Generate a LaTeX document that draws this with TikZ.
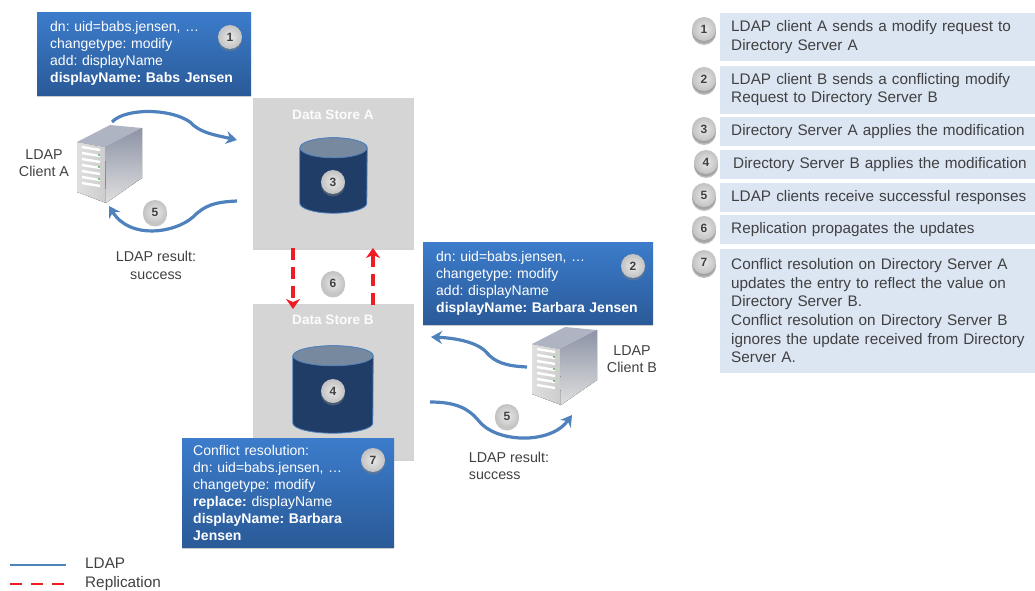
\documentclass[tikz,border=0pt]{standalone}
\usepackage{fontspec}
\setmainfont{Liberation Sans}
\usepackage{tikz}
\usetikzlibrary{positioning}
\usetikzlibrary{arrows.meta, shadows}
\definecolor{ldapblue}{HTML}{4F81BD}
\definecolor{boxtop}{HTML}{3C7CCB}
\definecolor{boxbot}{HTML}{2A5A98}
\definecolor{bandblue}{HTML}{DCE6F3}
\definecolor{storegrey}{HTML}{D5D5D5}
\definecolor{inkgrey}{HTML}{404040}
\definecolor{drumblue}{HTML}{1F3D66}
\definecolor{drumtop}{HTML}{76899F}
\definecolor{replred}{HTML}{EE1C25}
\definecolor{slate}{HTML}{8C93A6}
\tikzset{info box/.style={rectangle,anchor=north west,top color=boxtop,bottom color=boxbot,align=left,
                text=white,font=\fontsize{14}{17}\selectfont\frenchspacing,inner xsep=13pt,inner ysep=0pt,
                drop shadow={shadow xshift=0pt,shadow yshift=-2pt,opacity=.4}},
            store box/.style={rectangle,anchor=north west,fill=storegrey,
                drop shadow={shadow xshift=0pt,shadow yshift=-2pt,opacity=.35}},
            store title/.style={font=\fontsize{13.6}{14}\selectfont\bfseries,text=white!92!storegrey,inner sep=0pt},
            drum base/.style={rectangle,inner sep=0pt},
            badge/.style={circle,minimum size=24pt,inner sep=0pt,shading=radial,inner color=gray!18,outer color=gray!48,
                text=black!75,font=\fontsize{12}{12}\selectfont\bfseries,
                drop shadow={shadow xshift=0pt,shadow yshift=-2.5pt,opacity=.45}},
            step badge/.style={badge,drop shadow={shadow xshift=0pt,shadow yshift=-4pt,opacity=.5}},
            step band/.style={rectangle,anchor=north west,fill=bandblue,align=left,
                text=inkgrey,font=\fontsize{15.3}{18.7}\selectfont\frenchspacing,inner xsep=11pt,inner ysep=0pt,text width=304pt},
            plain note/.style={inner sep=0pt,align=center,text=inkgrey,font=\fontsize{14.3}{17.5}\selectfont},
            ldap link/.style={draw=ldapblue,line width=3.2pt,-{Stealth[length=11pt,width=13pt]}},
            repl link/.style={draw=replred,line width=3.2pt,dash pattern=on 12pt off 7pt,-{Stealth[length=10pt,width=14pt,inset=3pt]}},
            pics/server/.style={code={
                \fill[left color=gray!25,right color=gray!40] (0,17) -- (28,22) -- (29,78) -- (0,67) -- cycle;
                \fill[top color=slate,bottom color=gray!25] (28,22) -- (65,3) -- (65,53) -- (29,78) -- cycle;
                \fill[slate!70] (0,17) -- (33,0) -- (65,3) -- (28,22) -- cycle;
                \foreach \r in {22,28,34,40,46,52,58}
                    \draw[white,line width=2.4pt] (5,\r) -- (23,\r+3);
                \foreach \r in {28,40,52}
                    \fill[green!60!black] (22,\r+2) circle (.8);
            }},
            }
\newcommand\drumart[2]{
 \filldraw[fill=drumblue,draw=ldapblue,thick] ([yshift=-10pt]#1.north west) -- ([yshift=10pt]#1.south west)
     arc[start angle=180,end angle=360,x radius=#2pt,y radius=10pt] -- ([yshift=-10pt]#1.north east)
     arc[start angle=0,end angle=180,x radius=#2pt,y radius=10pt] -- cycle;
 \filldraw[fill=drumtop,draw=ldapblue,thick] ([yshift=-10pt]#1.north) circle[x radius=#2pt,y radius=10pt];
}
\begin{document}
\begin{tikzpicture}[x=1pt,y=-1pt]
 \useasboundingbox (0,0) rectangle (1035,591);
 % data stores
 \node[store box,minimum width=161pt,minimum height=150pt] (storeA) at (253,98) {};
 \node[store box,minimum width=161pt,minimum height=155pt] (storeB) at (253,304) {};
 \node[store title] (titleA) at (333,115) {Data Store A};
 \node[store title] (titleB) at (333,320) {Data Store B};
 \node[drum base,minimum width=67pt,minimum height=75pt] (drumA) at (333.5,175.5) {};
 \node[drum base,minimum width=80pt,minimum height=87pt] (drumB) at (333,389.5) {};
 \drumart{drumA}{33.5}
 \drumart{drumB}{40}
 % blue boxes
 \node[info box,text width=188pt,minimum height=83pt] (boxA) at (37,12) {dn: uid=babs.jensen, \dots\\changetype: modify\\add: displayName\\\textbf{displayName: Babs Jensen}};
 \node[info box,text width=204pt,minimum height=82pt] (boxB) at (423,242) {dn: uid=babs.jensen, \dots\\changetype: modify\\add: displayName\\\textbf{displayName: Barbara Jensen}};
 \node[info box,text width=190pt,minimum height=109pt,inner xsep=11pt] (boxC) at (182,438) {Conflict resolution:\\dn: uid=babs.jensen, \dots\\changetype: modify\\\textbf{replace:} displayName\\\textbf{displayName: Barbara}\\\textbf{Jensen}};
 % clients
 \pic at (77,125) {server};
 \pic at (532,327) {server};
 \node[plain note] (clientA) at (44,163) {LDAP\\Client A};
 \node[plain note] (clientB) at (632,359) {LDAP\\Client B};
 \node[plain note] (resultA) at (156,265.5) {LDAP result:\\success};
 \node[plain note,align=left] (resultB) at (509,466) {LDAP result:\\success};
 % badges in the diagram
 \node[badge] (n1) at (230,37) {1};
 \node[badge] (n2) at (633,266) {2};
 \node[badge] (n3) at (333,182) {3};
 \node[badge] (n4) at (333,391) {4};
 \node[badge] (n5a) at (155,212) {5};
 \node[badge] (n5b) at (507,416) {5};
 \node[badge] (n6) at (333,283) {6};
 \node[badge] (n7) at (373,460) {7};
 % ends of the links
 \coordinate (outA) at (112,122);
 \coordinate (inA) at (237,140);
 \coordinate (backA) at (237,201);
 \coordinate (homeA) at (109,206);
 \coordinate (outB) at (527,367);
 \coordinate (inB) at (431,337);
 \coordinate (backB) at (430,402);
 \coordinate (homeB) at (572,415);
 \coordinate (downA) at (293,248);
 \coordinate (downB) at (293,309);
 \coordinate (upB) at (373,305);
 \coordinate (upA) at (373,248);
 \path[ldap link]
     (outA) .. controls (125,108) and (170,108) .. (190,122) .. controls (200,133) and (215,135) .. (inA);
 \path[ldap link]
     (backA) .. controls (215,202) and (205,205) .. (193,217) .. controls (175,233) and (130,240) .. (homeA);
 \path[ldap link]
     (outB) .. controls (505,366) and (495,362) .. (487,353) .. controls (478,342) and (455,338) .. (inB);
 \path[ldap link]
     (backB) .. controls (455,402) and (468,408) .. (478,420) .. controls (495,443) and (550,445) .. (homeB);
 \path[repl link]
     (downA) -- (downB);
 \path[repl link]
     (upB) -- (upA);
 % steps on the right
 \node[step band,minimum height=48pt] (step1) at (720,13) {LDAP client A sends a modify request to\\Directory Server A};
 \node[step band,minimum height=48pt] (step2) [below=4pt of step1] {LDAP client B sends a conflicting modify\\Request to Directory Server B};
 \node[step band,minimum height=29pt] (step3) [below=3pt of step2] {Directory Server A applies the modification};
 \node[step band,minimum height=29pt] (step4) [below=4pt of step3] {\hspace*{2pt}Directory Server B applies the modification};
 \node[step band,minimum height=29pt] (step5) [below=3pt of step4] {LDAP clients receive successful responses};
 \node[step band,minimum height=29pt] (step6) [below=3pt of step5] {Replication propagates the updates};
 \node[step band,minimum height=124pt] (step7) [below=4pt of step6] {Conflict resolution on Directory Server A\\updates the entry to reflect the value on\\Directory Server B.\\Conflict resolution on Directory Server B\\ignores the update received from Directory\\Server A.};
 \node[step badge] (m1) at (704,29) {1};
 \node[step badge] (m2) at (704,79) {2};
 \node[step badge] (m3) at (704,129) {3};
 \node[step badge] (m4) at (706,162) {4};
 \node[step badge] (m5) at (704,195) {5};
 \node[step badge] (m6) at (704,228) {6};
 \node[step badge] (m7) at (704,262) {7};
 % legend
 \coordinate (keyA) at (10,565);
 \coordinate (keyB) at (66,565);
 \coordinate (keyC) at (10,584);
 \coordinate (keyD) at (66,584);
 \path[draw=ldapblue,line width=2.6pt]
     (keyA) edge node {} (keyB);
 \path[draw=replred,line width=2.8pt,dash pattern=on 12pt off 9pt]
     (keyC) edge node {} (keyD);
 \node[plain note,anchor=west,font=\fontsize{15.3}{17}\selectfont] (keyLdap) at (85,563) {LDAP};
 \node[plain note,anchor=west,font=\fontsize{15.3}{17}\selectfont] (keyRepl) at (85,584) {Replication};
\end{tikzpicture}
\end{document}
